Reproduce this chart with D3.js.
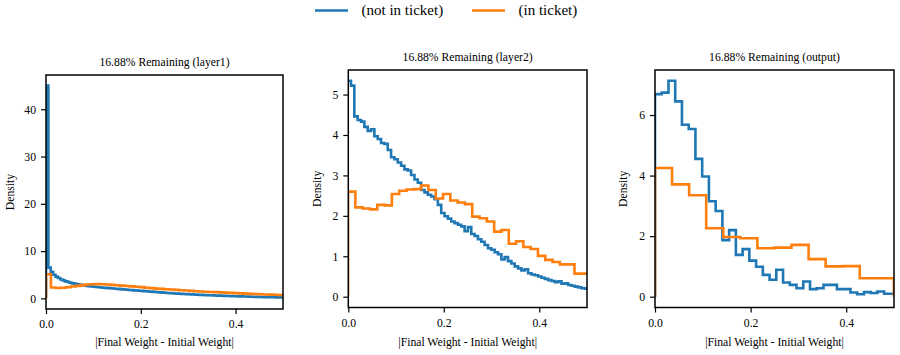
<!DOCTYPE html>
<html>
<head>
<meta charset="utf-8">
<script src="https://cdn.jsdelivr.net/npm/d3@7"></script>
<style>
  html, body { margin: 0; padding: 0; background: #fff; }
  svg text { font-family: "Liberation Serif", "Times New Roman", serif; fill: #000; }
</style>
</head>
<body>
<svg id="chart" width="900" height="355"></svg>
<script>
// ---------------- data ----------------
const seriesNames = ["(not in ticket)", "(in ticket)"];
const seriesColors = ["#1f77b4", "#ff7f0e"];
const titles = ["16.88% Remaining (layer1)", "16.88% Remaining (layer2)", "16.88% Remaining (output)"];
const xLabel = "|Final Weight - Initial Weight|";
const yLabel = "Density";
const xTicks = [0, 0.2, 0.4];
const yTicksLayer1 = [0, 10, 20, 30, 40];
const yTicksLayer2 = [0, 1, 2, 3, 4, 5];
const yTicksOutput = [0, 2, 4, 6];

// histogram bins: first edge, bin width, densities
const layer1NotStart = 0, layer1NotWidth = 0.005;
const layer1Not = [45, 6.5, 5.6, 5.0, 4.6, 4.3, 4.0, 3.8, 3.6, 3.45,
  3.3, 3.18, 3.08, 2.98, 2.88, 2.8, 2.72, 2.65, 2.58, 2.52,
  2.46, 2.41, 2.36, 2.31, 2.26, 2.21, 2.17, 2.13, 2.08, 2.04,
  2.0, 1.95, 1.91, 1.87, 1.83, 1.78, 1.74, 1.7, 1.66, 1.62,
  1.58, 1.54, 1.5, 1.46, 1.42, 1.38, 1.34, 1.3, 1.26, 1.22,
  1.18, 1.15, 1.11, 1.08, 1.04, 1.01, 0.98, 0.95, 0.92, 0.89,
  0.86, 0.84, 0.81, 0.79, 0.76, 0.74, 0.72, 0.69, 0.67, 0.65,
  0.63, 0.61, 0.59, 0.57, 0.55, 0.53, 0.51, 0.5, 0.48, 0.46,
  0.45, 0.43, 0.42, 0.4, 0.38, 0.37, 0.35, 0.34, 0.32, 0.31,
  0.3, 0.28, 0.27, 0.26, 0.25, 0.23, 0.22, 0.21, 0.2, 0.19];
const layer1InStart = 0, layer1InWidth = 0.0104;
const layer1In = [5.1, 2.3, 2.2, 2.25, 2.35, 2.5, 2.65, 2.8, 2.92, 3.0,
  3.02, 3.0, 2.93, 2.86, 2.78, 2.7, 2.62, 2.54, 2.46, 2.38,
  2.26, 2.16, 2.07, 2.0, 1.93, 1.86, 1.79, 1.72, 1.65, 1.58,
  1.52, 1.46, 1.41, 1.36, 1.31, 1.26, 1.21, 1.16, 1.11, 1.06,
  1.01, 0.96, 0.92, 0.87, 0.83, 0.79, 0.75, 0.71, 0.68];

const layer2NotStart = -0.0014, layer2NotWidth = 0.007;
const layer2Not = [5.34, 5.22, 4.46, 4.37, 4.33, 4.2, 4.1, 4.14, 3.97, 3.9,
  3.8, 3.78, 3.63, 3.45, 3.4, 3.32, 3.24, 3.15, 3.12, 3.01,
  2.9, 2.82, 2.64, 2.58, 2.52, 2.48, 2.41, 2.27, 2.07, 1.99,
  1.93, 1.86, 1.82, 1.78, 1.74, 1.62, 1.72, 1.55, 1.5, 1.42,
  1.36, 1.28, 1.2, 1.16, 1.1, 1.05, 0.92, 0.98, 0.88, 0.82,
  0.75, 0.7, 0.65, 0.68, 0.58, 0.55, 0.53, 0.5, 0.47, 0.44,
  0.41, 0.39, 0.36, 0.38, 0.32, 0.33, 0.29, 0.27, 0.25, 0.23,
  0.21, 0.2];
const layer2InStart = -0.0005, layer2InWidth = 0.0153;
const layer2In = [2.6, 2.21, 2.18, 2.16, 2.27, 2.26, 2.54, 2.62, 2.65, 2.66,
  2.75, 2.64, 2.43, 2.54, 2.38, 2.33, 2.29, 1.98, 1.94, 1.86,
  1.61, 1.65, 1.31, 1.37, 1.23, 1.18, 1.01, 0.91, 0.86, 0.8,
  0.8, 0.57, 0.57];

const outputNotStart = 0, outputNotWidth = 0.0141;
const outputNot = [6.69, 6.74, 7.13, 6.45, 5.68, 5.54, 4.55, 3.97, 3.15, 2.83,
  1.87, 2.2, 1.38, 1.57, 1.19, 0.99, 0.72, 0.56, 0.89, 0.47,
  0.39, 0.28, 0.5, 0.25, 0.28, 0.39, 0.39, 0.25, 0.25, 0.14,
  0.08, 0.15, 0.12, 0.17, 0.1, 0.1];
const outputInStart = 0, outputInWidth = 0.0357;
const outputIn = [4.25, 3.71, 3.35, 2.26, 1.97, 1.93, 1.6, 1.62, 1.71, 1.24,
  1.0, 1.01, 0.61, 0.61];

const xDomain = [0, 0.5];

// ---------------- layout ----------------
const panels = [
  { title: titles[0], yTicks: yTicksLayer1, box: { l: 46, r: 283, t: 75, b: 309 },
    series: [
      { start: layer1NotStart, width: layer1NotWidth, values: layer1Not },
      { start: layer1InStart, width: layer1InWidth, values: layer1In }] },
  { title: titles[1], yTicks: yTicksLayer2, box: { l: 348.3, r: 587, t: 70, b: 307.5 },
    series: [
      { start: layer2NotStart, width: layer2NotWidth, values: layer2Not },
      { start: layer2InStart, width: layer2InWidth, values: layer2In }] },
  { title: titles[2], yTicks: yTicksOutput, box: { l: 655, r: 894, t: 70, b: 307.5 },
    series: [
      { start: outputNotStart, width: outputNotWidth, values: outputNot },
      { start: outputInStart, width: outputInWidth, values: outputIn }] }
];

const svg = d3.select("#chart");
const fs = 11.7;

panels.forEach((p, i) => {
  const B = p.box;
  const yMaxData = d3.max(p.series, s => d3.max(s.values));
  const m = 0.05 * yMaxData;
  const x = d3.scaleLinear().domain(xDomain).range([B.l, B.r]);
  const y = d3.scaleLinear().domain([-m, yMaxData + m]).range([B.b, B.t]);

  const g = svg.append("g");
  const clipId = "clip" + i;
  g.append("clipPath").attr("id", clipId)
    .append("rect").attr("x", B.l).attr("y", B.t).attr("width", B.r - B.l).attr("height", B.b - B.t);

  const line = d3.line().x(d => x(d[0])).y(d => y(d[1])).curve(d3.curveStepAfter);

  p.series.forEach((s, si) => {
    const pts = [[s.start, 0]];
    s.values.forEach((v, k) => pts.push([s.start + k * s.width, v]));
    const end = s.start + s.values.length * s.width;
    pts.push([end, s.values[s.values.length - 1]]);
    pts.push([end, 0]);
    g.append("path")
      .attr("clip-path", `url(#${clipId})`)
      .attr("d", line(pts))
      .attr("fill", "none")
      .attr("stroke", seriesColors[si])
      .attr("stroke-width", 2.6)
      .attr("stroke-linejoin", "miter");
  });

  // axes
  const xAxis = d3.axisBottom(x).tickValues(xTicks).tickFormat(d3.format(".1f")).tickSize(5).tickPadding(6);
  const gx = g.append("g").attr("transform", `translate(0,${B.b})`).call(xAxis);
  const yAxis = d3.axisLeft(y).tickValues(p.yTicks).tickFormat(d3.format("d")).tickSize(5).tickPadding(5);
  const gy = g.append("g").attr("transform", `translate(${B.l},0)`).call(yAxis);
  [gx, gy].forEach(a => {
    a.select(".domain").remove();
    a.selectAll(".tick line").attr("stroke", "#000").attr("stroke-width", 1.2);
    a.selectAll(".tick text").attr("font-size", fs).attr("font-family", "Liberation Serif").attr("fill", "#000");
  });
  gx.selectAll(".tick text").attr("dy", null).attr("y", 19);

  // frame
  g.append("rect").attr("x", B.l).attr("y", B.t).attr("width", B.r - B.l).attr("height", B.b - B.t)
    .attr("fill", "none").attr("stroke", "#000").attr("stroke-width", 1.5);

  // title
  g.append("text").attr("x", (B.l + B.r) / 2).attr("y", B.t - 9)
    .attr("text-anchor", "middle").attr("font-size", fs).text(p.title);
  // x label
  g.append("text").attr("x", (B.l + B.r) / 2).attr("y", 346)
    .attr("text-anchor", "middle").attr("font-size", fs).text(xLabel);
  // y label
  const yl = [14, 321, 627][i];
  g.append("text").attr("transform", `translate(${yl},${(B.t + B.b) / 2}) rotate(-90)`)
    .attr("text-anchor", "middle").attr("font-size", fs).text(yLabel);
});

// legend
const legendX = [315, 472];
seriesNames.forEach((n, i) => {
  const lg = svg.append("g");
  lg.append("line").attr("x1", legendX[i]).attr("x2", legendX[i] + 33).attr("y1", 10.5).attr("y2", 10.5)
    .attr("stroke", seriesColors[i]).attr("stroke-width", 2.6);
  lg.append("text").attr("x", legendX[i] + 46.5).attr("y", 15.3).attr("font-size", 15).text(n);
});
</script>
</body>
</html>
